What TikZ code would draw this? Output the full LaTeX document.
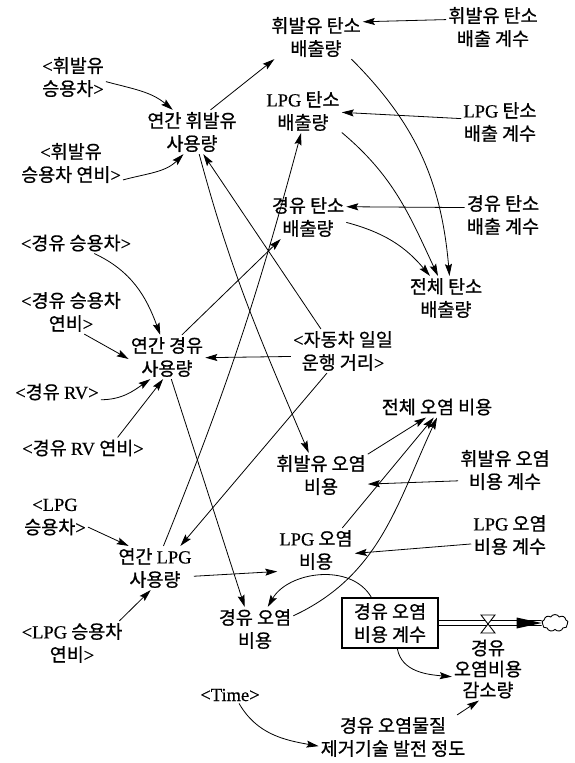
\documentclass[tikz,border=0pt]{standalone}
\usepackage{fontspec}
\newfontfamily\krfont[FakeBold=0.8]{Noto Sans CJK KR}
\newfontfamily\latfont[FakeBold=0.5]{Liberation Serif}
\usetikzlibrary{arrows.meta,shapes.symbols,calc}
\newcommand{\mylt}{{\latfont <}}
\newcommand{\mygt}{{\latfont >}}
\newcommand{\ltn}[1]{{\latfont #1}}
\begin{document}
\begin{tikzpicture}[x=1pt,y=1pt,
  lbl/.style={font=\krfont\fontsize{18.5}{23}\selectfont, align=center, inner sep=2pt},
  arr/.style={-{Stealth[length=12pt,width=7pt,inset=2pt]}, line width=0.8pt},
  stockbox/.style={lbl, draw, line width=1.1pt, minimum width=96pt, minimum height=50pt},
  pipe/.style={line width=0.9pt}]
\useasboundingbox (0,0) rectangle (575,-763);

\node[lbl] (n1) at (316,-37) {휘발유 탄소\\배출량};
\node[lbl] (n2) at (493,-27) {휘발유 탄소\\배출 계수};
\node[lbl] (n3) at (73,-77) {\mylt 휘발유\\승용차\mygt};
\node[lbl] (n4) at (192,-132) {연간 휘발유\\사용량};
\node[lbl] (n5) at (303,-111) {\ltn{LPG} 탄소\\배출량};
\node[lbl] (n6) at (500,-122) {\ltn{LPG} 탄소\\배출 계수};
\node[lbl] (n7) at (71,-163) {\mylt 휘발유\\승용차 연비\mygt};
\node[lbl] (n8) at (308,-217) {경유 탄소\\배출량};
\node[lbl] (n9) at (503,-215) {경유 탄소\\배출 계수};
\node[lbl] (n10) at (446,-298) {전체 탄소\\배출량};
\node[lbl] (n11) at (76,-243) {\mylt 경유 승용차\mygt};
\node[lbl] (n12) at (71,-312) {\mylt 경유 승용차\\연비\mygt};
\node[lbl] (n13) at (167,-357) {연간 경유\\사용량};
\node[lbl] (n14) at (343,-351) {\mylt 자동차 일일\\운행 거리\mygt};
\node[lbl] (n15) at (57,-392) {\mylt 경유 \ltn{RV}\mygt};
\node[lbl] (n16) at (83,-448) {\mylt 경유 \ltn{RV} 연비\mygt};
\node[lbl] (n17) at (437,-407) {전체 오염 비용};
\node[lbl] (n18) at (321,-475) {휘발유 오염\\비용};
\node[lbl] (n19) at (505,-470) {휘발유 오염\\비용 계수};
\node[lbl] (n20) at (55,-517) {\mylt\ltn{LPG}\\승용차\mygt};
\node[lbl] (n21) at (316,-550) {\ltn{LPG} 오염\\비용};
\node[lbl] (n22) at (510,-535) {\ltn{LPG} 오염\\비용 계수};
\node[lbl] (n23) at (155,-568) {연간 \ltn{LPG}\\사용량};
\node[lbl] (n24) at (255,-629) {경유 오염\\비용};
\node[stockbox] (n25) at (390,-623) {경유 오염\\비용 계수};
\node[lbl, font=\krfont\fontsize{18.5}{21}\selectfont] (n26) at (488,-669) {경유\\오염비용\\감소량};
\node[lbl] (n27) at (72,-643) {\mylt\ltn{LPG} 승용차\\연비\mygt};
\node[lbl] (n28) at (230,-695) {\mylt\ltn{Time}\mygt};
\node[lbl] (n29) at (393,-737) {경유 오염물질\\제거기술 발전 정도};

% flow
\node[cloud, draw, cloud puffs=9, cloud puff arc=120, aspect=1.6, minimum width=26pt, minimum height=17pt, inner sep=0pt, line width=0.9pt] (cloud) at (555,-623) {};
\draw[pipe] ($(n25.east)+(0,2.5)$) -- ($(cloud.west)+(0,2.5)$);
\draw[pipe] ($(n25.east)+(0,-2.5)$) -- ($(cloud.west)+(0,-2.5)$);
\fill (cloud.west) -- ++(-25,5.5) -- ++(0,-11) -- cycle;
\coordinate (valve) at (488,-624);
\draw[fill=white, line width=0.9pt] ($(valve)+(-7,9)$) -- ++(14,0) -- ++(-14,-18) -- ++(14,0) -- cycle;

% connectors
\draw[arr] (n2.171) -- (n1.18);
\draw[arr] (n3.-8) to[out=-15,in=140] (n4.131);
\draw[arr] (n7.-18) to[out=15,in=-135] (n4.-111);
\draw[arr] (n4.50) -- (n1.-152);
\draw[arr] (n6.175) -- (n5.-2);
\draw[arr] (n1.-32) to[out=-45,in=95] (n10.81);
\draw[arr] (n5.-29) to[out=-40,in=115] (n10.110);
\draw[arr] (n8.-8) to[out=-15,in=130] (n10.126);
\draw[arr] (n9.169) -- (n8.15);
\draw[arr] (n23.69) to[out=68,in=-105] (n5.-95);
\draw[arr] (n4.-72) to[out=-75,in=113] (n18.119);
\draw[arr] (n14.135) -- (n4.-63);
\draw[arr] (n14.186) -- (n13.-1);
\draw[arr] (n14.-126) -- (n23.41);
\draw[arr] (n13.56) -- (n8.-141);
\draw[arr] (n13.-79) -- (n24.115);
\draw[arr] (n11.-30) to[out=-25,in=110] (n13.107);
\draw[arr] (n12.-59) -- (n13.183);
\draw[arr] (n15.-10) to[out=0,in=-145] (n13.-127);
\draw[arr] (n16.17) -- (n13.-100);
\draw[arr] (n20.-17) -- (n23.140);
\draw[arr] (n27.25) -- (n23.-101);
\draw[arr] (n23.-12) -- (n21.-151);
\draw[arr] (n18.24) -- (n17.-136);
\draw[arr] (n21.40) -- (n17.-107);
\draw[arr] (n24.19) to[out=25,in=-115] (n17.-90);
\draw[arr] (n19.193) -- (n18.-11);
\draw[arr] (n22.193) -- (n21.-5);
\draw[arr] (n25.126) to[out=120,in=60] (n24.60);
\draw[arr] (n25.-74) to[out=-80,in=175] (n26.192);
\draw[arr] (n28.-43) to[out=-60,in=170] (n29.187);
\draw[arr] (n29.19) -- (n26.-106);
\end{tikzpicture}
\end{document}
